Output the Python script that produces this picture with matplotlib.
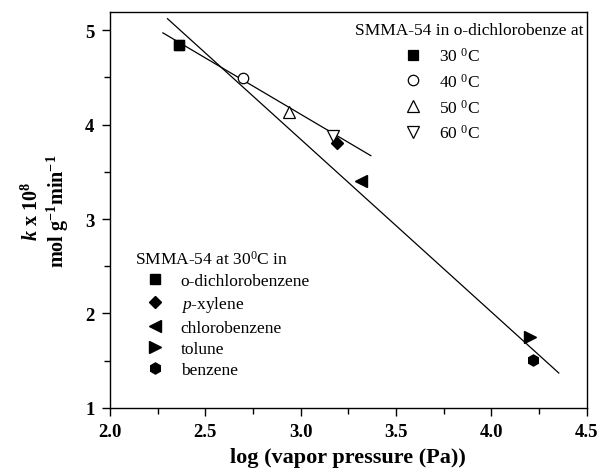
import matplotlib.pyplot as plt
import numpy as np
from matplotlib.ticker import MultipleLocator

plt.rcParams['font.family'] = ['Liberation Serif', 'DejaVu Serif']
plt.rcParams['mathtext.fontset'] = 'custom'
plt.rcParams['mathtext.rm'] = 'Liberation Serif'
plt.rcParams['mathtext.it'] = 'Liberation Serif:italic'
plt.rcParams['mathtext.bf'] = 'Liberation Serif:bold'
plt.rcParams['mathtext.bfit'] = 'Liberation Serif:italic:bold'

# SMMA-54 in o-dichlorobenzene at different temperatures
temp_title = 'SMMA-54 in o-dichlorobenze at'
temp_labels = ['30 $^0$C', '40 $^0$C', '50 $^0$C', '60 $^0$C']
temp_x = [2.362, 2.697, 2.938, 3.169]
temp_y = [4.84, 4.49, 4.13, 3.88]
temp_markers = ['s', 'o', '^', 'v']
temp_filled = [True, False, False, False]

# SMMA-54 at 30 C in different solvents
solv_title = 'SMMA-54 at 30$^0$C in'
solv_labels = ['o-dichlorobenzene', '$p$-xylene', 'chlorobenzene', 'tolune', 'benzene']
solv_x = [2.362, 3.193, 3.315, 4.201, 4.217]
solv_y = [4.84, 3.80, 3.40, 1.755, 1.51]
solv_markers = ['s', 'D', '<', '>', 'h']

# fitted lines (end points)
fit1_x = [2.278, 3.368]
fit1_y = [4.97, 3.67]
fit2_x = [2.302, 4.353]
fit2_y = [5.12, 1.37]

fig = plt.figure(figsize=(5.97, 4.77), dpi=100)
ax = fig.add_axes([0.184, 0.1426, 0.799, 0.830])

ax.plot(fit1_x, fit1_y, color='black', lw=0.9)
ax.plot(fit2_x, fit2_y, color='black', lw=0.9)

msize = {'s': 7, 'o': 7.5, '^': 8, 'v': 8, 'D': 6, '<': 8, '>': 8, 'h': 8}

temp_handles = []
for xi, yi, m, f, lab in zip(temp_x, temp_y, temp_markers, temp_filled, temp_labels):
    h, = ax.plot([xi], [yi], ls='none', marker=m, ms=msize[m],
                 mfc='black' if f else 'white', mec='black', mew=0.9, label=lab)
    temp_handles.append(h)

solv_handles = []
for xi, yi, m, lab in zip(solv_x, solv_y, solv_markers, solv_labels):
    h, = ax.plot([xi], [yi], ls='none', marker=m, ms=msize[m],
                 mfc='black', mec='black', label=lab)
    solv_handles.append(h)

leg_kw = dict(frameon=False, fontsize=12.5, handlelength=1.0, handletextpad=1.0,
              borderpad=0, borderaxespad=0, loc='upper left')

ax.text(0.514, 0.955, temp_title, transform=ax.transAxes, fontsize=12.5,
        ha='left', va='center')
leg1 = ax.legend(handles=temp_handles, bbox_to_anchor=(0.617, 0.912),
                 labelspacing=0.45, **leg_kw)
ax.add_artist(leg1)

ax.text(0.0524, 0.378, solv_title, transform=ax.transAxes, fontsize=12.5,
        ha='left', va='center')
ax.legend(handles=solv_handles, bbox_to_anchor=(0.0755, 0.341),
          labelspacing=0.3, **leg_kw)

ax.set_xlim(2.0, 4.5)
ax.set_ylim(1.0, 5.19)
ax.xaxis.set_major_locator(MultipleLocator(0.5))
ax.xaxis.set_minor_locator(MultipleLocator(0.25))
ax.yaxis.set_major_locator(MultipleLocator(1))
ax.yaxis.set_minor_locator(MultipleLocator(0.5))
ax.tick_params(which='both', direction='out', top=False, right=False, width=1)
ax.tick_params(which='major', length=6, labelsize=13.5, pad=5)
ax.tick_params(which='minor', length=4)
ax.xaxis.set_major_formatter(plt.FuncFormatter(lambda v, p: '%.1f' % v))
ax.yaxis.set_major_formatter(plt.FuncFormatter(lambda v, p: '%d' % v))
for lab in ax.get_xticklabels() + ax.get_yticklabels():
    lab.set_fontweight('bold')
for sp in ax.spines.values():
    sp.set_linewidth(1.0)

ax.set_xlabel('log (vapor pressure (Pa))', fontsize=16, fontweight='bold', labelpad=5)
ax.set_ylabel('$\\mathbfit{k}$ x 10$^\\mathbf{8}$\nmol g$^\\mathbf{-1}$min$^\\mathbf{-1}$',
              fontsize=14.5, fontweight='bold', labelpad=10, linespacing=1.1)

plt.savefig('out.png', dpi=100)
